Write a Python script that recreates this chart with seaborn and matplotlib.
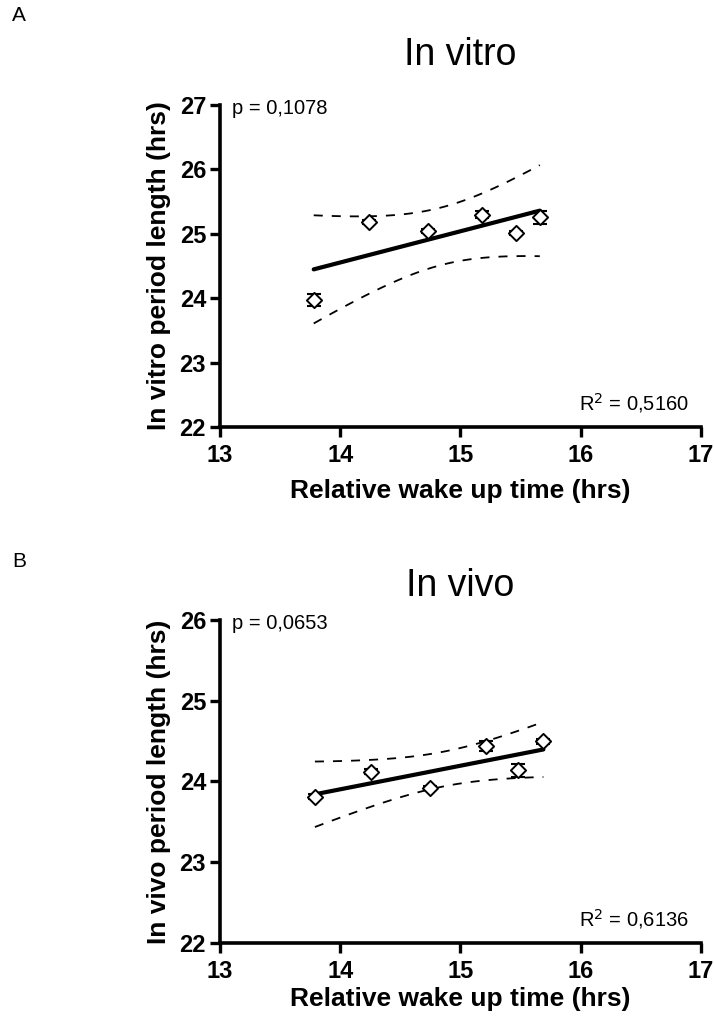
import numpy as np
import pandas as pd
import matplotlib
matplotlib.use('Agg')
import matplotlib.pyplot as plt
import seaborn as sns

# panel A - in vitro
vitro_x = [13.78, 14.24, 14.73, 15.18, 15.46, 15.66]
vitro_y = [23.97, 25.19, 25.05, 25.30, 25.01, 25.26]
vitro_err = [0.09, 0.03, 0.03, 0.06, 0.03, 0.10]

# panel B - in vivo
vivo_x = [13.79, 14.26, 14.75, 15.21, 15.48, 15.69]
vivo_y = [23.81, 24.12, 23.92, 24.44, 24.14, 24.50]
vivo_err = [0.03, 0.03, 0.03, 0.06, 0.08, 0.03]

x_ticks = [13, 14, 15, 16, 17]
T_95 = 2.776  # t value, df = 4

sns.set_theme(style='white')
plt.rcParams['font.family'] = ['Liberation Sans', 'DejaVu Sans']
plt.rcParams['axes.linewidth'] = 2.6
plt.rcParams['axes.edgecolor'] = 'black'
plt.rcParams['text.color'] = 'black'
plt.rcParams['axes.labelcolor'] = 'black'
plt.rcParams['xtick.color'] = 'black'
plt.rcParams['ytick.color'] = 'black'


def fit_band(x, y):
    x = np.asarray(x)
    y = np.asarray(y)
    slope, icpt = np.polyfit(x, y, 1)
    xs = np.linspace(x.min(), x.max(), 60)
    fit = icpt + slope * xs
    res = y - (icpt + slope * x)
    s = np.sqrt((res ** 2).sum() / (len(x) - 2))
    sxx = ((x - x.mean()) ** 2).sum()
    hw = T_95 * s * np.sqrt(1 / len(x) + (xs - x.mean()) ** 2 / sxx)
    return pd.DataFrame({'x': xs, 'fit': fit, 'lo': fit - hw, 'hi': fit + hw})


def panel(ax, x, y, err, ylim, ylabel, title, title_pad, xpad, ptxt, rtxt):
    band = fit_band(x, y)
    sns.lineplot(data=band, x='x', y='fit', ax=ax, color='black', linewidth=3.0)
    for col in ['lo', 'hi']:
        sns.lineplot(data=band, x='x', y=col, ax=ax, color='black', linewidth=1.3,
                     linestyle=(0, (5, 5)))
    ax.errorbar(x, y, yerr=err, fmt='none', ecolor='black', elinewidth=1.5,
                capsize=5, capthick=1.5, zorder=3)
    df = pd.DataFrame({'x': x, 'y': y})
    sns.scatterplot(data=df, x='x', y='y', ax=ax, marker='D', s=60,
                    facecolor='white', edgecolor='black', linewidth=1.4, zorder=4)

    ax.set_xlim(13, 17)
    ax.set_ylim(*ylim)
    ax.set_xticks(x_ticks)
    ax.set_yticks(range(ylim[0], ylim[1] + 1))
    sns.despine(ax=ax)
    ax.tick_params(axis='both', which='major', direction='out', length=7, width=2.4,
                   color='black', labelcolor='black', labelsize=17, left=True, bottom=True)
    ax.tick_params(axis='x', pad=5)
    ax.tick_params(axis='y', pad=3)
    for lab in ax.get_xticklabels() + ax.get_yticklabels():
        lab.set_fontweight('bold')
    ax.set_xlabel('Relative wake up time (hrs)', fontsize=19, fontweight='bold', labelpad=xpad)
    ax.set_ylabel(ylabel, fontsize=19, fontweight='bold', labelpad=6)
    ax.set_title(title, fontsize=27, pad=title_pad)
    ax.text(0.025, 0.99, ptxt, transform=ax.transAxes, ha='left', va='center', fontsize=14.5)
    ax.text(0.975, 0.075, rtxt, transform=ax.transAxes, ha='right', va='center', fontsize=14.5)


fig = plt.figure(figsize=(7.14, 10.18), dpi=100)
ax1 = fig.add_axes([0.308, 0.5805, 0.6737, 0.3163])
ax2 = fig.add_axes([0.308, 0.0737, 0.6737, 0.3173])

panel(ax1, vitro_x, vitro_y, vitro_err, (22, 27), 'In vitro period length (hrs)',
      'In vitro', 29, 9, 'p = 0,1078', 'R$^2$ = 0,5160')
panel(ax2, vivo_x, vivo_y, vivo_err, (22, 26), 'In vivo period length (hrs)',
      'In vivo', 17, 3, 'p = 0,0653', 'R$^2$ = 0,6136')

fig.text(0.017, 0.979, 'A', fontsize=15)
fig.text(0.017, 0.443, 'B', fontsize=15)

fig.savefig('out.png', dpi=100)
